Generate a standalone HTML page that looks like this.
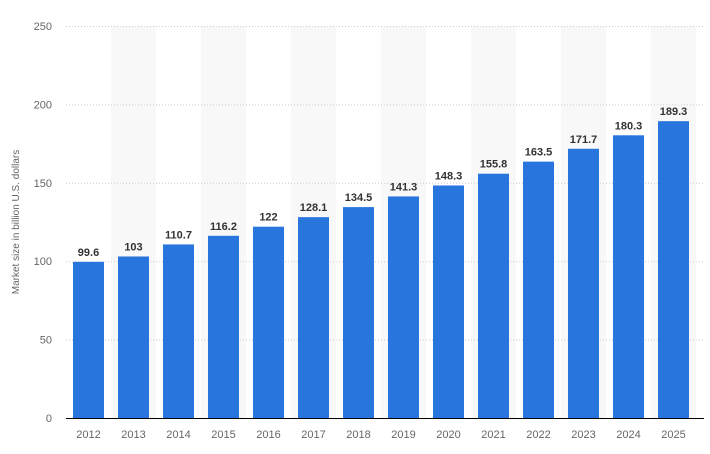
<!DOCTYPE html>
<html><head><meta charset="utf-8"><style>
body{margin:0;background:#fff;}
svg{display:block;font-family:"Liberation Sans",sans-serif;}
</style></head><body>
<svg id="chart" width="710" height="454">
<g id="bands"></g><g id="grid"></g><g id="bars"></g><g id="labels"></g><g id="xt"></g><g id="yt"></g>
<text transform="translate(19,222) rotate(-90)" text-anchor="middle" font-size="10" fill="#666">Market size in billion U.S. dollars</text>
<line x1="66" x2="704" y1="418.5" y2="418.5" stroke="#000" stroke-width="1"/>
</svg>
<script>
const categories=["2012","2013","2014","2015","2016","2017","2018","2019","2020","2021","2022","2023","2024","2025"];
const values=[99.6,103,110.7,116.2,122,128.1,134.5,141.3,148.3,155.8,163.5,171.7,180.3,189.3];
const valueLabels=["99.6","103","110.7","116.2","122","128.1","134.5","141.3","148.3","155.8","163.5","171.7","180.3","189.3"];
const yTicks=[0,50,100,150,200,250];
const NS="http://www.w3.org/2000/svg";
const x0=66,step=45,bw=31,yTop=26,yBot=418,yMax=250;
const y=v=>yBot-(v/yMax)*(yBot-yTop);
const xc=i=>x0+step*i+step/2;
function mk(t,a,p){const e=document.createElementNS(NS,t);for(const k in a)e.setAttribute(k,a[k]);document.getElementById(p).appendChild(e);return e;}
categories.forEach((c,i)=>{
 if(i%2==1){const b=mk("rect",{x:x0+step*i,y:yTop,width:step,height:yBot-yTop,fill:"#f8f8f8"},"bands");
 
 }
});
yTicks.forEach(t=>{
 if(t>0){const g=mk("line",{x1:x0,x2:704,y1:y(t)+0.5,y2:y(t)+0.5,stroke:"#ccc","stroke-dasharray":"1,2"},"grid");
 
 }
 const l=mk("text",{x:52,y:y(t)+4,"text-anchor":"end","font-size":"11",fill:"#666"},"yt");
 l.textContent=t;
 
 
});
categories.forEach((c,i)=>{
 const r=mk("rect",{x:xc(i)-bw/2,y:y(values[i]),width:bw,height:yBot-y(values[i]),fill:"#2876dd"},"bars");
 
 
 const v=mk("text",{x:xc(i),y:y(values[i])-6,"text-anchor":"middle","font-size":"11","font-weight":"bold",fill:"#333"},"labels");
 v.textContent=valueLabels[i];
 
 
 const t=mk("text",{x:xc(i),y:438,"text-anchor":"middle","font-size":"11",fill:"#666"},"xt");
 t.textContent=c;
 
 
});
</script>
</body></html>
